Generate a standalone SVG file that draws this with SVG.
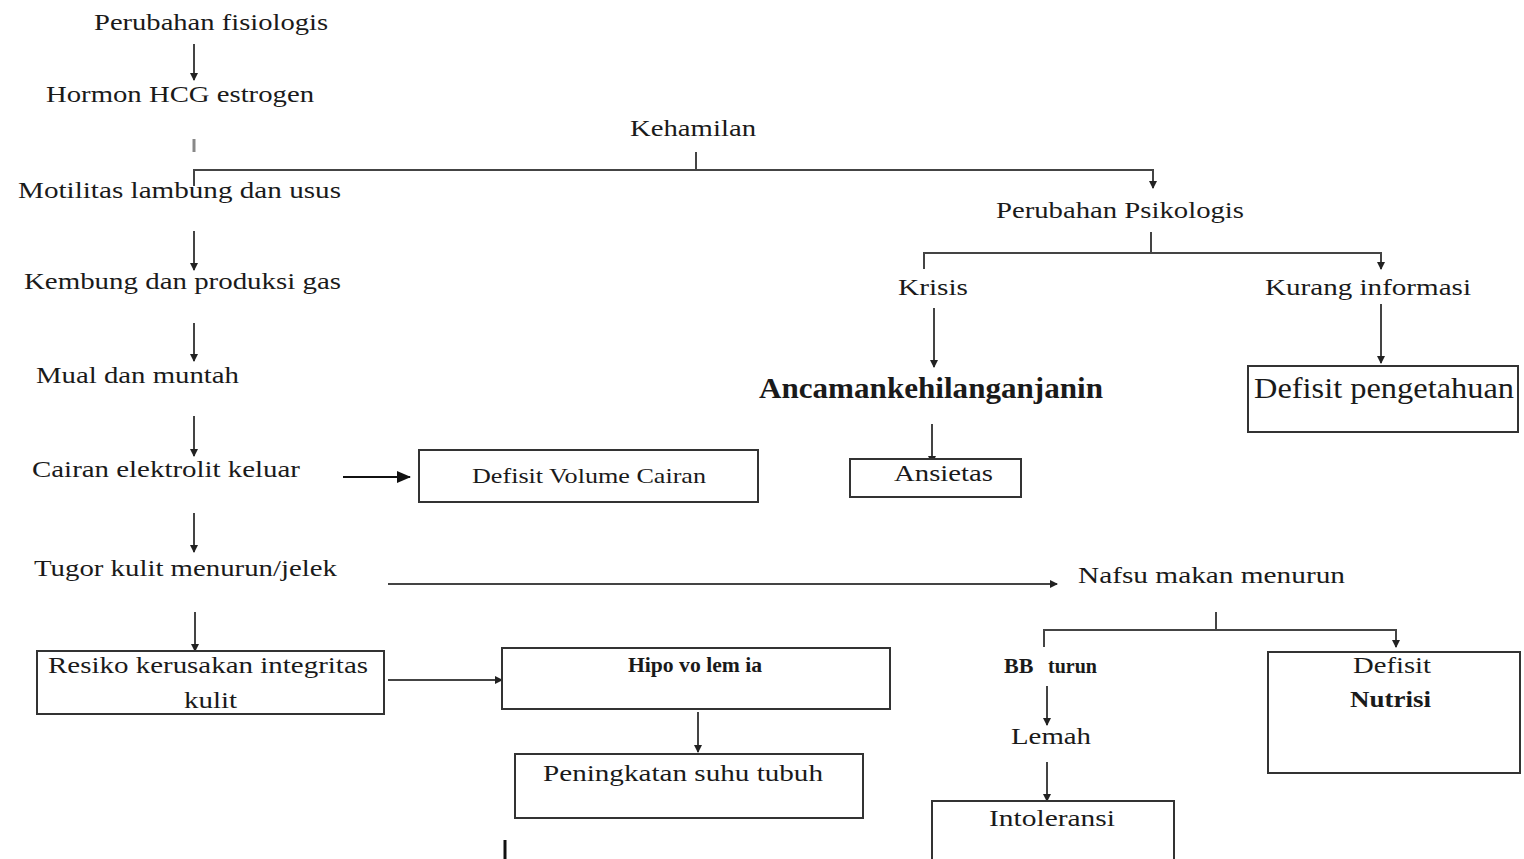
<svg xmlns="http://www.w3.org/2000/svg" width="1524" height="859" viewBox="0 0 1524 859">
<defs>
<marker id="ah" markerWidth="8" markerHeight="8" refX="7" refY="4" orient="auto" markerUnits="userSpaceOnUse">
<path d="M0,0 L8,4 L0,8 Z" fill="#222"/>
</marker>
<marker id="ahb" markerWidth="14" markerHeight="12" refX="13" refY="6" orient="auto" markerUnits="userSpaceOnUse">
<path d="M0,0 L14,6 L0,12 Z" fill="#111"/>
</marker>
</defs>
<style>
text{font-family:"Liberation Serif","Times New Roman",serif;fill:#1a1a1a;font-size:24px}
.b{font-weight:bold}
.box{fill:#fff;stroke:#333;stroke-width:2}
.c{fill:none;stroke:#444;stroke-width:2}
.ca{fill:none;stroke:#444;stroke-width:2;marker-end:url(#ah)}
</style>
<rect width="1524" height="859" fill="#fff"/>
<g id="connectors">
<line class="ca" x1="194" y1="44" x2="194" y2="80"/>
<line x1="194" y1="139" x2="194" y2="152" stroke="#888" stroke-width="3"/>
<line class="c" x1="696" y1="152" x2="696" y2="170"/>
<polyline class="ca" points="194,186 194,170 1153,170 1153,188"/>
<line class="ca" x1="194" y1="231" x2="194" y2="270"/>
<line class="ca" x1="194" y1="323" x2="194" y2="361"/>
<line class="ca" x1="194" y1="416" x2="194" y2="456"/>
<line class="ca" x1="194" y1="513" x2="194" y2="552"/>
<line class="ca" x1="195" y1="612" x2="195" y2="651"/>
<line x1="343" y1="477" x2="410" y2="477" stroke="#111" stroke-width="2" marker-end="url(#ahb)"/>
<line class="ca" x1="388" y1="584" x2="1057" y2="584" stroke="#777" stroke-width="3"/>
<line class="ca" x1="388" y1="680" x2="502" y2="680"/>
<line class="ca" x1="698" y1="712" x2="698" y2="752"/>
<line class="c" x1="1151" y1="232" x2="1151" y2="253"/>
<polyline class="ca" points="924,269 924,253 1381,253 1381,269"/>
<line class="ca" x1="934" y1="308" x2="934" y2="367"/>
<line class="ca" x1="1381" y1="304" x2="1381" y2="363"/>
<line class="ca" x1="932" y1="424" x2="932" y2="463"/>
<line class="c" x1="1216" y1="612" x2="1216" y2="630" stroke="#111"/>
<polyline class="ca" points="1044,647 1044,630 1396,630 1396,647"/>
<line class="ca" x1="1047" y1="686" x2="1047" y2="725"/>
<line class="ca" x1="1047" y1="762" x2="1047" y2="801"/>
<line x1="505" y1="840" x2="505" y2="859" stroke="#111" stroke-width="3"/>
</g>
<g id="n-perubahan-fisiologis"><text x="94" y="30" textLength="234" lengthAdjust="spacingAndGlyphs">Perubahan fisiologis</text></g>
<g id="n-hormon"><text x="46" y="102" textLength="268" lengthAdjust="spacingAndGlyphs">Hormon HCG estrogen</text></g>
<g id="n-kehamilan"><text x="630" y="136" textLength="126" lengthAdjust="spacingAndGlyphs">Kehamilan</text></g>
<g id="n-motilitas"><text x="18" y="198" textLength="323" lengthAdjust="spacingAndGlyphs">Motilitas lambung dan usus</text></g>
<g id="n-kembung"><text x="24" y="289" textLength="317" lengthAdjust="spacingAndGlyphs">Kembung dan produksi gas</text></g>
<g id="n-mual"><text x="36" y="383" textLength="203" lengthAdjust="spacingAndGlyphs">Mual dan muntah</text></g>
<g id="n-cairan"><text x="32" y="477" textLength="268" lengthAdjust="spacingAndGlyphs">Cairan  elektrolit keluar</text></g>
<g id="n-tugor"><text x="34" y="576" textLength="303" lengthAdjust="spacingAndGlyphs">Tugor kulit menurun/jelek</text></g>
<g id="n-resiko">
<rect class="box" x="37" y="651" width="347" height="63"/>
<text x="48" y="673" textLength="320" lengthAdjust="spacingAndGlyphs">Resiko kerusakan integritas</text>
<text x="184" y="708" textLength="53" lengthAdjust="spacingAndGlyphs">kulit</text>
</g>
<g id="n-hipovolemia">
<rect class="box" x="502" y="648" width="388" height="61" stroke-width="2.5"/>
<text x="628" y="672" class="b" style="font-size:20px" textLength="134" lengthAdjust="spacingAndGlyphs">Hipo vo lem ia</text>
</g>
<g id="n-peningkatan">
<rect class="box" x="515" y="754" width="348" height="64"/>
<text x="543" y="781" textLength="280" lengthAdjust="spacingAndGlyphs">Peningkatan  suhu tubuh</text>
</g>
<g id="n-defisit-volume">
<rect class="box" x="419" y="450" width="339" height="52" stroke-width="2.5" stroke="#111"/>
<text x="472" y="483" style="font-size:21px" textLength="234" lengthAdjust="spacingAndGlyphs">Defisit  Volume  Cairan</text>
</g>
<g id="n-perubahan-psikologis"><text x="996" y="218" textLength="248" lengthAdjust="spacingAndGlyphs">Perubahan Psikologis</text></g>
<g id="n-krisis"><text x="898" y="295" textLength="70" lengthAdjust="spacingAndGlyphs">Krisis</text></g>
<g id="n-kurang"><text x="1265" y="295" textLength="206" lengthAdjust="spacingAndGlyphs">Kurang informasi</text></g>
<g id="n-ancaman"><text x="759" y="398" class="b" style="font-size:29px" textLength="344" lengthAdjust="spacingAndGlyphs">Ancamankehilanganjanin</text></g>
<g id="n-ansietas">
<rect class="box" x="850" y="459" width="171" height="38"/>
<text x="894" y="481" textLength="99" lengthAdjust="spacingAndGlyphs">Ansietas</text>
</g>
<g id="n-defisit-pengetahuan">
<rect class="box" x="1248" y="366" width="270" height="66" stroke="#111"/>
<text x="1254" y="398" style="font-size:29px" textLength="260" lengthAdjust="spacingAndGlyphs">Defisit pengetahuan</text>
</g>
<g id="n-nafsu"><text x="1078" y="583" textLength="267" lengthAdjust="spacingAndGlyphs">Nafsu makan menurun</text></g>
<g id="n-bb"><text x="1004" y="673" style="font-size:22px"><tspan class="b">BB</tspan><tspan x="1048" textLength="49" lengthAdjust="spacingAndGlyphs" class="b" style="font-size:20px">turun</tspan></text></g>
<g id="n-lemah"><text x="1011" y="744" textLength="80" lengthAdjust="spacingAndGlyphs">Lemah</text></g>
<g id="n-intoleransi">
<rect class="box" x="932" y="801" width="242" height="70"/>
<text x="989" y="826" textLength="126" lengthAdjust="spacingAndGlyphs">Intoleransi</text>
</g>
<g id="n-defisit-nutrisi">
<rect class="box" x="1268" y="652" width="252" height="121"/>
<text x="1353" y="673" textLength="78" lengthAdjust="spacingAndGlyphs">Defisit</text>
<text x="1350" y="707" class="b" textLength="81" lengthAdjust="spacingAndGlyphs">Nutrisi</text>
</g>
</svg>
